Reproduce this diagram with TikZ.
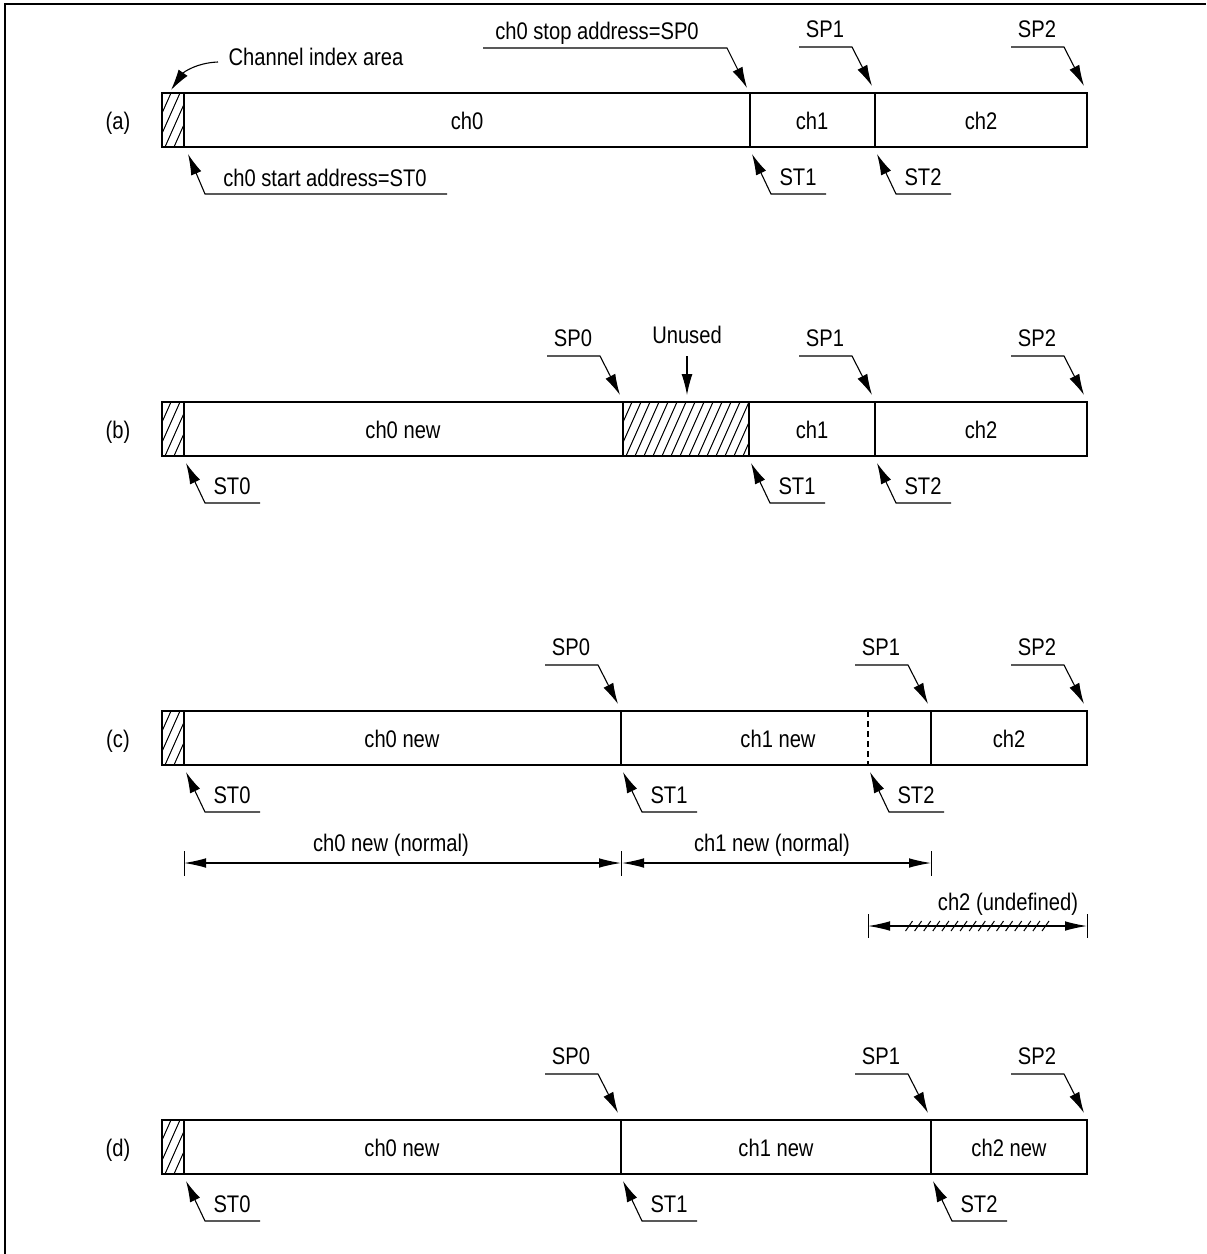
\documentclass[tikz,border=0pt]{standalone}
\usepackage{fontspec}
\setmainfont{Liberation Sans}[FakeStretch=0.84]
\usetikzlibrary{arrows.meta,calc}
\tikzset{
  bar/.style={line width=0.9pt},
  divl/.style={line width=0.6pt},
  call/.style={line width=0.55pt,-{Latex[length=10.5pt,width=5.5pt]}},
  dimarrow/.style={line width=0.55pt,{Latex[length=11pt,width=4.8pt]}-{Latex[length=11pt,width=4.8pt]}},
  tickl/.style={line width=0.5pt},
  txt/.style={inner sep=0pt,anchor=base,font=\fontsize{12}{14}\selectfont},
  hatchl/.style={line width=0.5pt},
}
% SP callout: id, divider x, bar top y, label
\newcommand{\SPc}[4]{%
  \coordinate (#1-t) at ({#2-3},{#3-7});
  \coordinate (#1-k) at ({#2-23},{#3-46});
  \coordinate (#1-s) at ({#2-76},{#3-46});
  \node[txt] (#1) at ({#2-50},{#3-56}) {#4};
  \draw[call] (#1-s) -- (#1-k) -- (#1-t);
}
% ST callout: id, divider x, bar bottom y, label
\newcommand{\STc}[4]{%
  \coordinate (#1-t) at ({#2+2},{#3+7});
  \coordinate (#1-k) at ({#2+21},{#3+47});
  \coordinate (#1-e) at ({#2+76},{#3+47});
  \node[txt] (#1) at ({#2+48},{#3+38}) {#4};
  \draw[call] (#1-e) -- (#1-k) -- (#1-t);
}
% hatched box: x0, top, x1, bottom
\newcommand{\hatchbox}[4]{%
  \begin{scope}
    \clip (#1,#2) rectangle (#3,#4);
    \foreach \k in {0,...,18} {\draw[hatchl] ({#1+\k*9-24},#4) -- ++(24,-54);}
  \end{scope}
  \draw[divl] (#1,#2) rectangle (#3,#4);
}
\begin{document}
\begin{tikzpicture}[x=0.5pt,y=-0.5pt]
\useasboundingbox (0,0) rectangle (1206,1254);
% frame
\draw[line width=1pt] (5,1254) -- (5,4) -- (1206,4);

% ================= (a) =================
\node[txt] (la) at (118,129) {(a)};
\draw[bar] (162,93) rectangle (1087,147);
\hatchbox{162}{93}{184}{147}
\draw[divl] (750,93) -- (750,147);
\draw[divl] (875,93) -- (875,147);
\node[txt] (a0) at (467,129) {ch0};
\node[txt] (a1) at (812,129) {ch1};
\node[txt] (a2) at (981,129) {ch2};
% channel index area
\node[txt] (cia) at (316,65) {Channel index area};
\coordinate (cia-s) at (218,62);
\coordinate (cia-t) at (171,90);
\draw[call] (cia-s) to[out=182,in=55] (cia-t);
% ch0 stop address
\coordinate (asp0-s) at (483,48);
\coordinate (asp0-k) at (727,48);
\coordinate (asp0-t) at (747,88);
\node[txt] (asp0) at (597,39) {ch0 stop address=SP0};
\draw[call] (asp0-s) -- (asp0-k) -- (asp0-t);
\SPc{asp1}{875}{93}{SP1}
\SPc{asp2}{1087}{93}{SP2}
% ch0 start address
\coordinate (ast0-t) at (188,154);
\coordinate (ast0-k) at (205,194);
\coordinate (ast0-e) at (447,194);
\node[txt] (ast0) at (325,186) {ch0 start address=ST0};
\draw[call] (ast0-e) -- (ast0-k) -- (ast0-t);
\STc{ast1}{750}{147}{ST1}
\STc{ast2}{875}{147}{ST2}

% ================= (b) =================
\node[txt] (lb) at (118,438) {(b)};
\draw[bar] (162,402) rectangle (1087,456);
\hatchbox{162}{402}{184}{456}
\hatchbox{623}{402}{749}{456}
\draw[divl] (875,402) -- (875,456);
\node[txt] (b0) at (403,438) {ch0 new};
\node[txt] (b1) at (812,438) {ch1};
\node[txt] (b2) at (981,438) {ch2};
\SPc{bsp0}{623}{402}{SP0}
\node[txt] (unused) at (687,343) {Unused};
\coordinate (un-s) at (687,356);
\coordinate (un-t) at (687,395);
\draw[call] (un-s) -- (un-t);
\SPc{bsp1}{875}{402}{SP1}
\SPc{bsp2}{1087}{402}{SP2}
\STc{bst0}{184}{456}{ST0}
\STc{bst1}{749}{456}{ST1}
\STc{bst2}{875}{456}{ST2}

% ================= (c) =================
\node[txt] (lc) at (118,747) {(c)};
\draw[bar] (162,711) rectangle (1087,765);
\hatchbox{162}{711}{184}{765}
\draw[divl] (621,711) -- (621,765);
\draw[divl] (931,711) -- (931,765);
\draw[divl,dash pattern=on 3pt off 2pt] (868,711) -- (868,765);
\node[txt] (c0) at (402,747) {ch0 new};
\node[txt] (c1) at (778,747) {ch1 new};
\node[txt] (c2) at (1009,747) {ch2};
\SPc{csp0}{621}{711}{SP0}
\SPc{csp1}{931}{711}{SP1}
\SPc{csp2}{1087}{711}{SP2}
\STc{cst0}{184}{765}{ST0}
\STc{cst1}{621}{765}{ST1}
\STc{cst2}{868}{765}{ST2}
% dimension lines
\draw[tickl] (184,851) -- (184,876);
\draw[tickl] (621,851) -- (621,876);
\draw[tickl] (931,851) -- (931,876);
\coordinate (dn0-l) at (184,863);
\coordinate (dn0-r) at (621,863);
\coordinate (dn1-l) at (622,863);
\coordinate (dn1-r) at (931,863);
\draw[dimarrow] (dn0-l) -- (dn0-r);
\draw[dimarrow] (dn1-l) -- (dn1-r);
\node[txt] (dn0) at (391,851) {ch0 new (normal)};
\node[txt] (dn1) at (772,851) {ch1 new (normal)};
\draw[tickl] (868,914) -- (868,938);
\draw[tickl] (1087,914) -- (1087,938);
\coordinate (du-l) at (868,926);
\coordinate (du-r) at (1087,926);
\draw[dimarrow] (du-l) -- (du-r);
\foreach \k in {0,...,15} {\draw[hatchl] ({909+\k*9.1-3.5},931) -- ++(7,-10);}
\node[txt] (du) at (1008,910) {ch2 (undefined)};

% ================= (d) =================
\node[txt] (ld) at (118,1156) {(d)};
\draw[bar] (162,1120) rectangle (1087,1174);
\hatchbox{162}{1120}{184}{1174}
\draw[divl] (621,1120) -- (621,1174);
\draw[divl] (931,1120) -- (931,1174);
\node[txt] (d0) at (402,1156) {ch0 new};
\node[txt] (d1) at (776,1156) {ch1 new};
\node[txt] (d2) at (1009,1156) {ch2 new};
\SPc{dsp0}{621}{1120}{SP0}
\SPc{dsp1}{931}{1120}{SP1}
\SPc{dsp2}{1087}{1120}{SP2}
\STc{dst0}{184}{1174}{ST0}
\STc{dst1}{621}{1174}{ST1}
\STc{dst2}{931}{1174}{ST2}
\end{tikzpicture}
\end{document}
